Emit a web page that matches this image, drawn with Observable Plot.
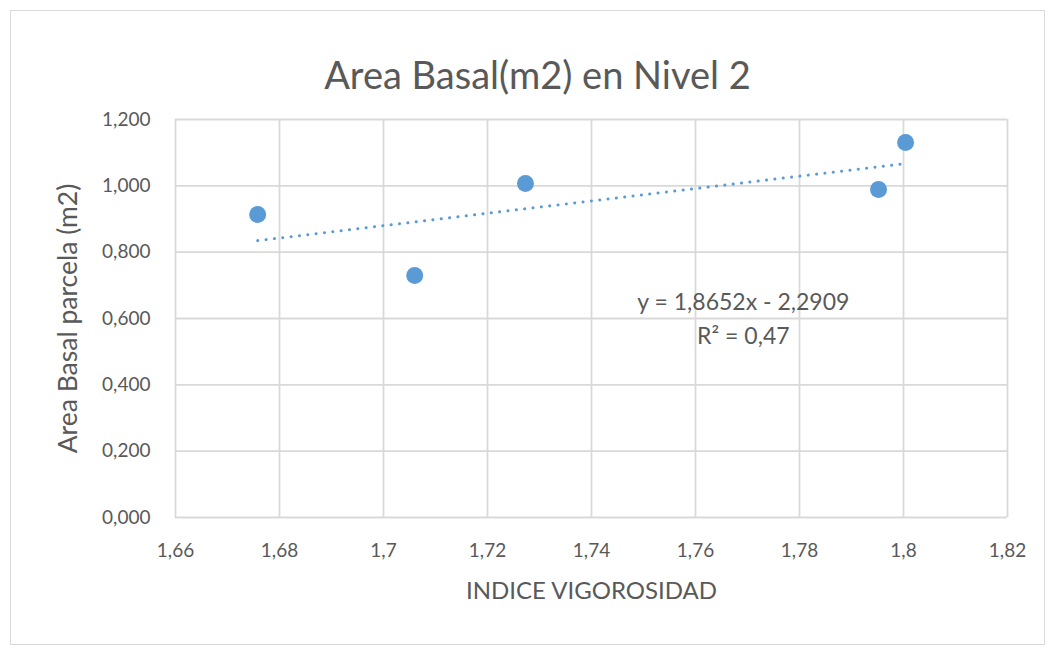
<!DOCTYPE html>
<html>
<head>
<meta charset="utf-8">
<script src="https://cdn.jsdelivr.net/npm/d3@7"></script>
<script src="https://cdn.jsdelivr.net/npm/@observablehq/plot@0.6"></script>
<style>
  html, body { margin: 0; padding: 0; background: #fff; }
  #wrap { position: relative; width: 1054px; height: 651px; overflow: hidden; }
  #frame { position: absolute; left: 10px; top: 10px; width: 1033px; height: 633px; border: 1.5px solid #d9d9d9; pointer-events: none; }
  #chart { position: absolute; left: 0; top: 0; }
</style>
</head>
<body>
<div id="wrap"><div id="chart"></div><div id="frame"></div></div>
<script>
const indiceVigorosidad = [1.6758, 1.706, 1.7273, 1.7952, 1.8004];
const areaBasal = [0.9135, 0.7296, 1.007, 0.989, 1.1306];
const xTicks = [1.66, 1.68, 1.70, 1.72, 1.74, 1.76, 1.78, 1.80, 1.82];
const yTicks = [0, 0.2, 0.4, 0.6, 0.8, 1.0, 1.2];
const trendSlope = 1.8652;
const trendIntercept = -2.2909;
const trendLabel = "y = 1,8652x - 2,2909";
const r2Label = "R² = 0,47";
const titleText = "Area Basal(m2) en Nivel 2";
const xLabel = "INDICE VIGOROSIDAD";
const yLabel = "Area Basal parcela (m2)";

const points = indiceVigorosidad.map((x, i) => ({x, y: areaBasal[i]}));
const xMin = d3.min(indiceVigorosidad), xMax = d3.max(indiceVigorosidad);
const trend = [xMin, xMax].map(x => ({x, y: trendSlope * x + trendIntercept}));

const fmtX = d => String(+d.toFixed(2)).replace(".", ",");
const fmtY = d => d3.format(".3f")(d).replace(".", ",");

const blue = "#5B9BD5";
const grey = "#595959";
const font = "Lato, 'Open Sans', sans-serif";

const chart = Plot.plot({
  width: 1054,
  height: 651,
  marginLeft: 175,
  marginRight: 47,
  marginTop: 119,
  marginBottom: 134,
  style: {fontFamily: font, fontSize: "19px", color: grey, background: "transparent"},
  x: {domain: [1.66, 1.82], ticks: xTicks, tickFormat: fmtX, label: null},
  y: {domain: [0, 1.2], ticks: yTicks, tickFormat: fmtY, label: null},
  marks: [
    Plot.gridX(xTicks, {stroke: "#d9d9d9", strokeOpacity: 1, strokeWidth: 1.8}),
    Plot.gridY(yTicks, {stroke: "#d9d9d9", strokeOpacity: 1, strokeWidth: 1.8}),
    Plot.axisX({ticks: xTicks, tickFormat: fmtX, tickSize: 0, tickPadding: 26, fontSize: 19, fill: grey, label: null}),
    Plot.axisY({ticks: yTicks, tickFormat: fmtY, tickSize: 0, tickPadding: 25, fontSize: 19, fill: grey, label: null}),
    Plot.line(trend, {x: "x", y: "y", stroke: blue, strokeWidth: 3, strokeDasharray: "0.1 8.3", strokeLinecap: "round"}),
    Plot.dot(points, {x: "x", y: "y", r: 8.5, fill: blue, stroke: "none"}),
    Plot.text([trendLabel], {x: 1.7692, y: 0.648, text: d => d, fontSize: 23, fill: grey, textAnchor: "middle"}),
    Plot.text([r2Label], {x: 1.7692, y: 0.546, text: d => d, fontSize: 23, fill: grey, textAnchor: "middle"}),
    Plot.text([titleText], {frameAnchor: "top", dy: -57, dx: -54, text: d => d, fontSize: 38, fill: grey, textAnchor: "middle"}),
    Plot.text([xLabel], {frameAnchor: "bottom", dy: 81, text: d => d, fontSize: 24, fill: grey, textAnchor: "middle"}),
    Plot.text([yLabel], {frameAnchor: "left", dx: -107, text: d => d, fontSize: 26.5, fill: grey, rotate: -90, textAnchor: "middle"})
  ]
});
document.getElementById("chart").appendChild(chart);
</script>
</body>
</html>
